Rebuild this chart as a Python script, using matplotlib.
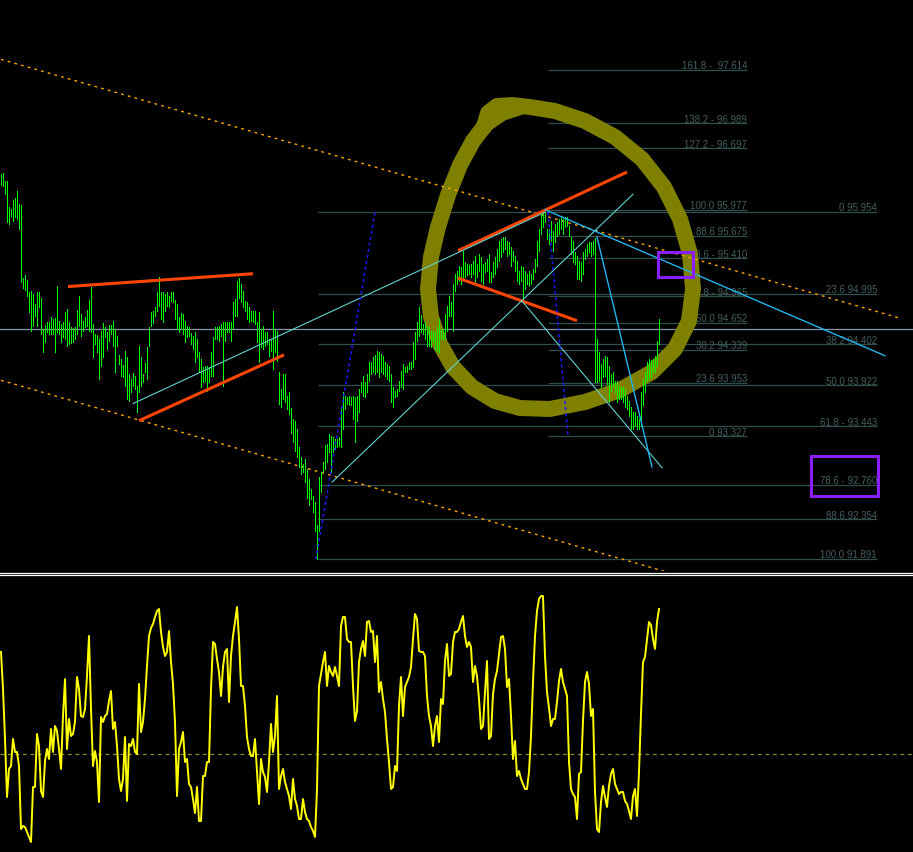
import numpy as np
import matplotlib
matplotlib.use("Agg")
import matplotlib.pyplot as plt
from matplotlib.patches import Rectangle

# price bars, one high/low pair per bar (bar 0 at the left edge)
high = [96.40, 96.41, 96.31, 96.31, 96.01, 95.99, 96.09, 96.12, 96.20, 96.05,
        96.03, 95.18, 95.21, 95.16, 95.02, 95.03, 94.99, 94.88, 95.02, 95.02,
        94.95, 94.58, 94.63, 94.67, 94.67, 94.72, 94.70, 94.71, 95.09, 94.68,
        94.64, 94.67, 94.78, 94.82, 94.67, 94.61, 94.60, 94.61, 94.81, 94.97,
        94.76, 94.68, 94.72, 94.81, 94.92, 95.07, 94.64, 94.53, 94.51, 94.47,
        94.56, 94.65, 94.61, 94.55, 94.63, 94.63, 94.68, 94.58, 94.50, 94.28,
        94.23, 94.16, 94.33, 94.26, 94.06, 94.00, 94.07, 94.03, 93.92, 94.38,
        94.26, 94.06, 94.19, 94.37, 94.61, 94.78, 94.79, 94.84, 95.02, 95.19,
        95.02, 95.02, 94.99, 95.02, 94.97, 95.02, 95.02, 94.92, 94.88, 94.72,
        94.77, 94.76, 94.68, 94.62, 94.61, 94.54, 94.50, 94.55, 94.47, 94.31,
        94.23, 94.14, 94.15, 94.15, 94.14, 94.31, 94.49, 94.61, 94.61, 94.62,
        94.64, 94.67, 94.67, 94.67, 94.67, 94.67, 94.90, 94.93, 95.14, 95.18,
        95.11, 95.03, 94.91, 94.90, 94.84, 94.79, 94.79, 94.79, 94.67, 94.78,
        94.58, 94.62, 94.55, 94.55, 94.47, 94.47, 94.79, 94.58, 94.56, 94.08,
        93.88, 94.06, 94.06, 93.80, 93.85, 93.66, 93.53, 93.51, 93.41, 93.20,
        93.09, 93.00, 93.06, 92.95, 92.83, 92.71, 92.63, 92.56, 92.29, 92.85,
        92.91, 93.03, 93.22, 93.24, 93.36, 93.33, 93.32, 93.30, 93.30, 93.32,
        93.67, 93.85, 93.80, 93.79, 93.80, 93.79, 93.80, 93.79, 93.80, 93.88,
        93.96, 94.03, 93.96, 94.06, 94.20, 94.20, 94.25, 94.28, 94.33, 94.31,
        94.29, 94.27, 94.20, 94.17, 94.15, 94.06, 93.90, 93.86, 93.88, 93.97,
        94.09, 94.17, 94.14, 94.15, 94.20, 94.20, 94.43, 94.55, 94.67, 94.84,
        94.75, 94.64, 94.67, 94.62, 94.61, 94.56, 94.56, 94.55, 94.61, 94.70,
        94.58, 94.58, 94.76, 94.85, 94.97, 94.90, 95.11, 95.23, 95.26, 95.32,
        95.31, 95.50, 95.37, 95.34, 95.33, 95.34, 95.38, 95.44, 95.34, 95.46,
        95.42, 95.34, 95.37, 95.40, 95.46, 95.25, 95.37, 95.43, 95.52, 95.61,
        95.64, 95.66, 95.66, 95.61, 95.60, 95.54, 95.50, 95.44, 95.38, 95.26,
        95.32, 95.31, 95.26, 95.23, 95.26, 95.23, 95.29, 95.40, 95.61, 95.75,
        95.93, 95.95, 95.95, 95.75, 95.75, 95.85, 95.73, 95.81, 95.83, 95.87,
        95.89, 95.87, 95.89, 95.89, 95.79, 95.66, 95.61, 95.48, 95.44, 95.38,
        95.37, 95.48, 95.52, 95.58, 95.60, 95.60, 95.61, 95.65, 94.47, 94.31,
        94.17, 94.23, 94.27, 94.26, 94.15, 94.06, 94.08, 93.97, 93.97, 93.92,
        93.90, 93.90, 93.88, 93.80, 93.74, 93.67, 93.61, 93.61, 93.56, 93.53,
        93.85, 94.00, 94.08, 94.20, 94.23, 94.22, 94.23, 94.27, 94.44, 94.70]

low = [96.27, 96.26, 96.16, 95.83, 95.81, 95.91, 95.85, 95.89, 95.87, 95.75,
       95.13, 95.06, 95.04, 94.97, 94.78, 94.56, 94.62, 94.74, 94.62, 94.84,
       94.53, 94.31, 94.43, 94.55, 94.53, 94.53, 94.53, 94.31, 94.55, 94.53,
       94.43, 94.49, 94.47, 94.38, 94.41, 94.42, 94.43, 94.47, 94.53, 94.62,
       94.50, 94.56, 94.61, 94.62, 94.56, 94.55, 94.26, 94.41, 94.31, 94.00,
       94.15, 94.26, 94.49, 94.35, 94.44, 94.53, 94.38, 94.08, 94.38, 94.17,
       94.03, 94.02, 93.92, 93.76, 93.74, 93.85, 93.92, 93.88, 93.61, 93.85,
       93.92, 93.96, 94.08, 94.00, 94.38, 94.62, 94.65, 94.74, 94.79, 94.85,
       94.70, 94.67, 94.79, 94.85, 94.84, 94.91, 94.90, 94.70, 94.58, 94.55,
       94.58, 94.53, 94.43, 94.49, 94.50, 94.41, 94.35, 94.20, 94.25, 94.08,
       93.90, 93.96, 93.97, 93.86, 93.96, 94.03, 94.03, 94.47, 94.47, 94.44,
       94.50, 93.92, 94.44, 94.55, 94.55, 94.44, 94.58, 94.74, 94.74, 94.95,
       94.90, 94.84, 94.79, 94.70, 94.67, 94.68, 94.67, 94.64, 94.43, 94.20,
       94.37, 94.35, 94.38, 94.41, 94.27, 94.33, 94.12, 94.31, 94.21, 93.71,
       93.67, 93.76, 93.73, 93.65, 93.59, 93.37, 93.26, 93.15, 93.09, 92.97,
       92.89, 92.91, 92.79, 92.61, 92.52, 92.59, 92.44, 92.22, 91.89, 92.22,
       92.68, 92.91, 92.95, 93.03, 93.14, 92.91, 93.14, 93.18, 93.20, 93.21,
       93.20, 93.41, 93.65, 93.71, 93.69, 93.69, 93.53, 93.26, 93.51, 93.61,
       93.85, 93.80, 93.79, 93.85, 93.97, 94.06, 94.08, 94.06, 94.08, 94.02,
       94.08, 94.06, 94.03, 94.00, 93.97, 93.73, 93.67, 93.79, 93.80, 93.86,
       93.90, 93.88, 94.08, 94.08, 94.12, 94.12, 94.14, 94.23, 94.44, 94.50,
       94.55, 94.53, 94.47, 94.38, 94.38, 94.37, 94.43, 94.35, 94.33, 94.31,
       94.47, 94.47, 94.47, 94.56, 94.74, 94.74, 94.56, 95.03, 95.11, 95.15,
       95.11, 95.17, 95.19, 95.21, 95.23, 95.19, 95.23, 95.13, 95.19, 95.26,
       95.15, 95.11, 95.25, 95.26, 95.13, 95.13, 95.19, 95.23, 95.31, 95.38,
       95.43, 95.48, 95.52, 95.44, 95.46, 95.32, 95.38, 95.26, 95.15, 95.11,
       95.15, 94.93, 95.05, 95.11, 95.09, 95.11, 95.17, 95.25, 95.32, 95.50,
       95.70, 95.78, 95.84, 95.64, 95.58, 95.61, 95.50, 95.60, 95.67, 95.70,
       95.75, 95.70, 95.78, 95.79, 95.67, 95.46, 95.37, 95.34, 95.17, 95.17,
       95.15, 95.23, 95.40, 95.44, 95.48, 95.44, 95.46, 93.96, 93.96, 93.97,
       93.90, 94.02, 94.03, 93.94, 93.73, 93.86, 93.92, 93.85, 93.73, 93.76,
       93.76, 93.73, 93.67, 93.65, 93.56, 93.41, 93.41, 93.45, 93.41, 93.41,
       93.45, 93.69, 93.85, 93.97, 94.00, 94.02, 94.08, 94.08, 94.15, 94.41]

# oscillator (lower window), same bars
osc = [102, 65, 15, -43, -15, -12, 15, 2, 2, -12,
       -75, -72, -73, -78, -83, -88, -33, -33, 20, 8,
       -37, -43, -7, 5, -5, 25, 2, 28, 23, 5,
       -15, 38, 75, 5, 35, 18, 20, 32, 77, 65,
       38, 37, 45, 78, 118, 45, -12, 3, -8, -48,
       37, 32, 38, 40, 53, 63, 25, 32, 8, -25,
       -37, -25, 17, -47, 10, 8, 15, 2, 0, 70,
       22, 32, 55, 88, 118, 126, 130, 137, 143, 145,
       122, 107, 98, 102, 123, 92, 70, 32, -42, 5,
       12, 22, -8, -5, -30, -33, -45, -59, -33, -67,
       -67, -22, -22, -8, -8, 65, 112, 110, 95, 82,
       58, 87, 102, 105, 52, 98, 118, 132, 147, 115,
       68, 68, 48, 17, 5, -2, -2, 15, -18, -50,
       -5, -18, -23, -38, -8, 30, 2, 18, 58, -35,
       -22, -15, -28, -35, -42, -55, -25, -45, -52, -65,
       -65, -45, -58, -65, -67, -73, -77, -83, -35, 68,
       80, 92, 102, 68, 88,
       82, 78, 87, 78, 68, 128, 137, 137, 115, 112,
       112, 68, 33, 43, 92, 105, 113, 98, 132, 133,
       122, 123, 92, 118, 62, 72, 55, 42, 15, -8,
       -35, -33, -12, -17, 48, 77, 38, 67, 72, 77,
       87, 115, 140, 135, 103, 102, 102, 98, 58, 38,
       28, 8, 28, 38, 12, 55, 50, 93, 110, 78,
       80, 112, 122, 122, 125, 132, 138, 118, 107, 112,
       107, 72, 88, 78, 55, 25, 28, 62, 93, 15,
       18, 60, 75, 83, 100, 117, 118, 105, 67, 75,
       38, -5, 13, -22, -17, -25, -30, -35, -35, -18,
       18, 72, 118, 143, 155, 158, 158, 98, 62, 46,
       28, 35, 35, 52, 73, 85, 72, 65, 58, -8,
       -35, -40, -43, -65, -20, -18, 33, 72, 82, 70,
       38, 45, -38, -75, -78, -48, -32, -43, -53, -32,
       -20, -15, -30, -35, -40, -38, -38, -47, -50, -57,
       -65, -42, -35, -62, -18, 40, 92, 97, 115, 132,
       129, 115, 105, 132, 145]

# fibonacci objects: levels, labels, and the bars they span
fib1_levels = [95.954, 94.995, 94.402, 93.922, 93.443, 92.760, 92.354, 91.891]
fib1_labels = ["0 95.954", "23.6 94.995", "38.2 94.402", "50.0 93.922",
               "61.8 - 93.443", "78.6 - 92.760", "88.6 92.354", "100.0 91.891"]
fib1_span = (158.5, 438)

fib2_levels = [93.327, 93.953, 94.339, 94.652, 94.965, 95.410, 95.675,
               95.977, 96.697, 96.989, 97.614]
fib2_labels = ["0 93.327", "23.6 93.953", "38.2 94.339", "50.0 94.652",
               "61.8 - 94.965", "78.6 - 95.410", "88.6 95.675", "100.0 95.977",
               "127.2 - 96.697", "138.2 - 96.989", "161.8 -  97.614"]
fib2_span = (273.5, 373)

bid = 94.583

# drawn objects, as (bar, price) anchor pairs
channel = [((0, 97.739), (450, 94.706)), ((0, 93.983), (450, 90.950))]
red_lines = [((33.5, 95.08), (126, 95.23)), ((69, 93.51), (141.5, 94.28)),
             ((228.5, 95.50), (313, 96.42)), ((228.5, 95.18), (288, 94.68))]
teal_lines = [((66, 93.71), (272, 95.95)), ((165.5, 92.79), (316, 96.16)),
              ((260.5, 94.91), (330.5, 92.96))]
sky_lines = [((272, 95.98), (442, 94.27)), ((298, 95.66), (325.5, 92.97))]
blue_dots = [((157.5, 91.89), (187, 95.95)), ((273.5, 95.95), (283.5, 93.33))]
boxes = [(328.5, 95.192, 17.5, 0.292), (405, 92.629, 33.5, 0.468)]

# hand drawn loop
loop_bar = [241.5, 243.5, 248, 255.5, 264.5, 277, 292, 307, 320.5, 331.5,
            339.5, 344.5, 346, 344, 337, 325.5, 309.5, 292, 274.5, 259.5,
            247, 235.5, 226, 219.5, 215, 213.5, 215, 218.5, 223.5, 229.5,
            236, 242.5, 250.5, 259.5]
loop_price = [96.947, 97.111, 97.193, 97.204, 97.181, 97.134, 97.017, 96.830,
              96.573, 96.245, 95.870, 95.461, 95.051, 94.677, 94.349, 94.080,
              93.869, 93.729, 93.647, 93.658, 93.740, 93.904, 94.138, 94.407,
              94.723, 95.051, 95.426, 95.777, 96.151, 96.502, 96.783, 96.982,
              97.111, 97.181]

bars = np.arange(len(high))
H = 853.0

fig = plt.figure(figsize=(9.13, 8.53), dpi=100, facecolor="black")
ax = fig.add_axes([0, 1 - 572 / H, 1, 572 / H], facecolor="black")
ax2 = fig.add_axes([0, 0, 1, 276 / H], facecolor="black")
for a in (ax, ax2):
    a.set_xlim(-0.5, 456)
    a.set_xticks([])
    a.set_yticks([])
    for s in a.spines.values():
        s.set_visible(False)
ax.set_ylim(91.751, 98.445)
ax2.set_ylim(-98, 178)

fib_col = "#2F4F4F"
txt_col = "#435F5F"
for levels, labels, (x0, x1) in [(fib1_levels, fib1_labels, fib1_span),
                                 (fib2_levels, fib2_labels, fib2_span)]:
    ax.hlines(levels, x0, x1, color=fib_col, lw=0.9, zorder=1)
    for lev, lab in zip(levels, labels):
        ax.annotate(lab, (x1, lev), xytext=(0, 1.3), textcoords="offset points",
                    ha="right", va="baseline", fontsize=7, color=txt_col,
                    family="Liberation Sans", zorder=1)

ax.axhline(bid, color="#8696A8", lw=0.9, zorder=1)

ax.plot(loop_bar, loop_price, color="#808000", lw=11.5,
        solid_capstyle="round", solid_joinstyle="round", zorder=2)

ax.vlines(bars, low, high, color="#00FF00", lw=0.72, antialiased=False,
          zorder=4)

for (p, q) in channel:
    ax.plot([p[0], q[0]], [p[1], q[1]], color="#FFA500", lw=1.0,
            dashes=(2, 3), zorder=3)
for (p, q) in red_lines:
    ax.plot([p[0], q[0]], [p[1], q[1]], color="#FF4500", lw=2.2,
            solid_capstyle="butt", zorder=5)
for (p, q) in teal_lines:
    ax.plot([p[0], q[0]], [p[1], q[1]], color="#5FD3D0", lw=0.8, zorder=5)
for (p, q) in sky_lines:
    ax.plot([p[0], q[0]], [p[1], q[1]], color="#22B4EE", lw=1.0, zorder=5)
for (p, q) in blue_dots:
    ax.plot([p[0], q[0]], [p[1], q[1]], color="#1A1AFF", lw=1.1,
            dashes=(2, 2), zorder=5)
for (x, y, w, h) in boxes:
    ax.add_patch(Rectangle((x, y), w, h, fill=False, edgecolor="#8B1EFF",
                           lw=2.2, zorder=6))

# window separator
for ypx in (573.8, 576.3):
    fig.add_artist(plt.Line2D([0, 1], [1 - ypx / H] * 2, transform=fig.transFigure,
                              color="white", lw=0.9))

ax2.plot(bars, osc, color="#FFFF00", lw=1.4, zorder=3)
ax2.axhline(0, color="#8C8C28", lw=0.9, dashes=(3, 3), zorder=2)

fig.savefig("out.png", dpi=100, facecolor="black")
